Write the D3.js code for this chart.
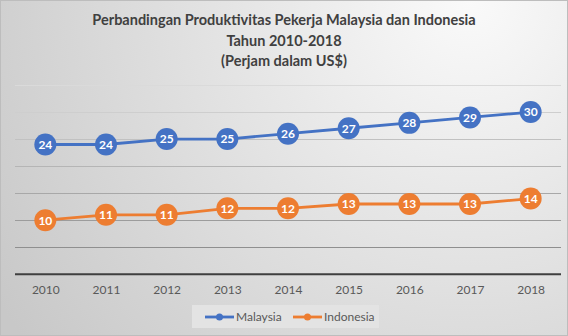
<!DOCTYPE html>
<html><head><meta charset="utf-8">
<script src="https://cdn.jsdelivr.net/npm/d3@7"></script>
<style>html,body{margin:0;padding:0;background:#fff}svg{display:block}</style>
</head><body>
<svg id="chart" width="568" height="336"></svg>
<script>
const years = ["2010","2011","2012","2013","2014","2015","2016","2017","2018"];
const malaysia = [24, 24, 25, 25, 26, 27, 28, 29, 30];
const indonesia = [10, 11, 11, 12.2, 12.2, 13, 13, 13, 14];
const yTicks = [0, 5, 10, 15, 20, 25, 30, 35];
const titleLines = ["Perbandingan Produktivitas Pekerja Malaysia dan Indonesia", "Tahun 2010-2018", "(Perjam dalam US$)"];
const seriesNames = ["Malaysia", "Indonesia"];
const colors = ["#4472C4", "#ED7D31"];

const W = 568, H = 336;
const svg = d3.select("#chart");
const font = "Lato, 'Open Sans', sans-serif";

const defs = svg.append("defs");
const rg = defs.append("radialGradient").attr("id","bg")
  .attr("gradientUnits","userSpaceOnUse").attr("cx", 470).attr("cy", 0).attr("r", 560);
rg.append("stop").attr("offset","0%").attr("stop-color","#fafafa");
rg.append("stop").attr("offset","100%").attr("stop-color","#c8c8c8");
svg.append("rect").attr("width",W).attr("height",H).attr("fill","url(#bg)");
svg.append("rect").attr("x",0.5).attr("y",0.5).attr("width",W-1).attr("height",H-1)
  .attr("fill","none").attr("stroke","#bdbdbd");

const x = d3.scalePoint().domain(years).range([15, 561]).padding(0.5);
const y = d3.scaleLinear().domain([0, 35]).range([274.3, 85]);

// gridlines
const gridColor = d3.scaleLinear().domain([35, 5]).range(["#dadada", "#8f8f8f"]);
const grid = svg.append("g");
grid.selectAll("line").data(yTicks.filter(d => d > 0)).join("line")
  .attr("x1", 15).attr("x2", 561)
  .attr("y1", d => Math.round(y(d)) + 0.5).attr("y2", d => Math.round(y(d)) + 0.5)
  .attr("stroke", d => gridColor(d)).attr("stroke-width", 1);

// x axis
const xAxis = svg.append("g").attr("transform", `translate(0,${y(0)})`)
  .call(d3.axisBottom(x).tickSize(0).tickPadding(11));
xAxis.select(".domain").attr("d", "M15,0H561").attr("stroke", "#3f3f3f").attr("stroke-width", 2);
xAxis.selectAll("text").attr("font-family", font).attr("font-size", 12).attr("fill", "#595959");

// title
svg.append("g").selectAll("text").data(titleLines).join("text")
  .attr("x", 284).attr("y", (d,i) => 25 + i*20.5)
  .attr("text-anchor", "middle").attr("font-family", font).attr("font-weight", "bold")
  .attr("font-size", 14.5).attr("fill", "#404040").text(d => d);

// series
const series = [malaysia, indonesia];
const line = d3.line().x((d,i) => x(years[i])).y(d => y(d));
series.forEach((vals, si) => {
  const g = svg.append("g");
  g.append("path").datum(vals).attr("d", line).attr("fill","none")
    .attr("stroke", colors[si]).attr("stroke-width", 2.8);
  const pts = g.selectAll("g.pt").data(vals).join("g").attr("class","pt")
    .attr("transform", (d,i) => `translate(${x(years[i])},${y(d)})`);
  pts.append("circle").attr("r", 11).attr("fill", colors[si]);
  pts.append("text").attr("text-anchor","middle").attr("dy","0.36em")
    .attr("font-family", font).attr("font-weight","bold").attr("font-size", 12)
    .attr("fill","#fff").text(d => d3.format(".0f")(d));
});

// legend
const lg = svg.append("g");
lg.append("rect").attr("x",192).attr("y",305).attr("width",187).attr("height",23).attr("fill","#e3e3e3");
const items = lg.selectAll("g").data(seriesNames).join("g")
  .attr("transform", (d,i) => `translate(${205 + i*88},317)`);
items.append("line").attr("x1",0).attr("x2",29).attr("stroke",(d,i)=>colors[i]).attr("stroke-width",2.8);
items.append("circle").attr("cx",14.5).attr("r",3.5).attr("fill",(d,i)=>colors[i]);
items.append("text").attr("x",31).attr("dy","0.36em").attr("font-family",font)
  .attr("font-size",12).attr("fill","#595959").text(d => d);
</script>
</body></html>
